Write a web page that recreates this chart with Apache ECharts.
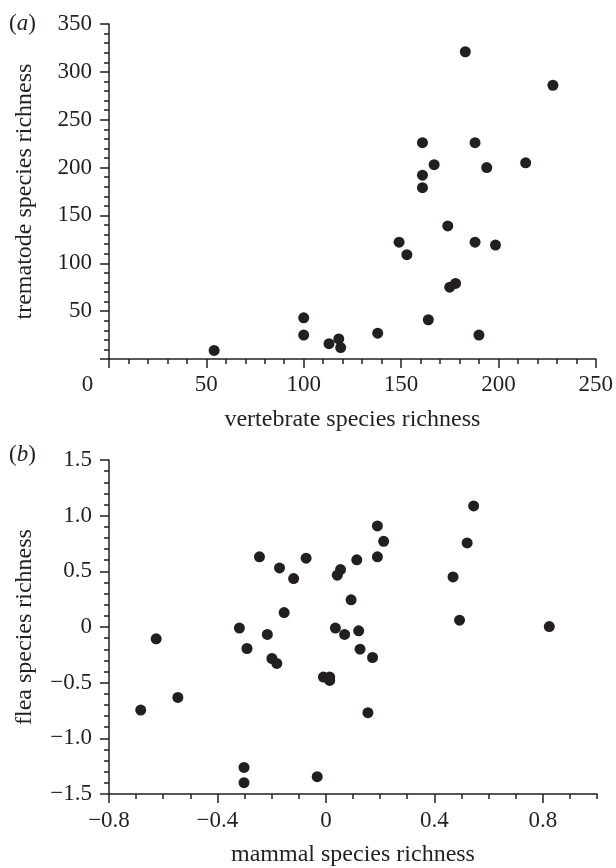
<!DOCTYPE html>
<html>
<head>
<meta charset="utf-8">
<script src="https://cdn.jsdelivr.net/npm/echarts@6/dist/echarts.min.js"></script>
<style>
html,body{margin:0;padding:0;background:#fff;}
#c{width:616px;height:868px;}
</style>
</head>
<body>
<div id="c"></div>
<script>
// Panel (a): vertebrate vs trematode species richness
var vertebrate = [54, 100, 100, 113, 118, 119, 138, 149, 153, 161, 161, 161, 167, 164, 174, 175, 178, 183, 188, 188, 194, 190, 198.5, 214, 228];
var trematode  = [9, 43, 25, 16, 21, 12, 27, 122, 109, 226, 192, 179, 203, 41, 139, 75, 79, 321, 226, 122, 200, 25, 119, 205, 286];

// Panel (b): mammal vs flea species richness (residuals)
var mammal = [-0.683, -0.626, -0.546, -0.319, -0.291, -0.302, -0.302, -0.245, -0.216, -0.199, -0.181, -0.171, -0.154, -0.119, -0.073, -0.032, -0.009, 0.014, 0.014, 0.035, 0.042, 0.054, 0.069, 0.093, 0.114, 0.121, 0.126, 0.155, 0.172, 0.190, 0.190, 0.213, 0.469, 0.493, 0.521, 0.545, 0.824];
var flea   = [-0.746, -0.106, -0.633, -0.010, -0.193, -1.261, -1.398, 0.630, -0.067, -0.283, -0.327, 0.531, 0.130, 0.435, 0.618, -1.344, -0.450, -0.450, -0.480, -0.010, 0.465, 0.516, -0.067, 0.244, 0.603, -0.034, -0.199, -0.770, -0.274, 0.908, 0.630, 0.770, 0.450, 0.061, 0.755, 1.087, 0.004];

// Tick values
var bXMajorTicks = [-0.8, -0.4, 0, 0.4, 0.8];

var FONT = 'Liberation Serif';
var INK = '#231f20';

function pairs(xs, ys) { return xs.map(function (x, i) { return [x, ys[i]]; }); }
function minusFmt(v, digits) {
  if (Math.abs(v) < 1e-9) return '0';
  return v.toFixed(digits).replace('-', '\u2212');
}
var bXMinorTicks = [];
for (var k = -8; k <= 10; k++) bXMinorTicks.push(k / 10);

var lineStyle = { color: INK, width: 1.5 };
var labelBase = { color: INK, fontFamily: FONT, fontSize: 23 };
var nameStyle = { color: INK, fontFamily: FONT, fontSize: 24 };
var panelRich = {
  p: { fontFamily: FONT, fontSize: 23, color: INK, fontWeight: 'normal' },
  i: { fontFamily: FONT, fontSize: 23, fontStyle: 'italic', fontWeight: 'normal', color: INK }
};

var chart = echarts.init(document.getElementById('c'), null, { renderer: 'canvas' });
chart.setOption({
  backgroundColor: '#ffffff',
  animation: false,
  title: [
    { text: '{p|(}{i|a}{p|)}', left: 9, top: 12, padding: 0,
      textStyle: { fontWeight: 'normal', rich: panelRich } },
    { text: '{p|(}{i|b}{p|)}', left: 9, top: 443, padding: 0,
      textStyle: { fontWeight: 'normal', rich: panelRich } }
  ],
  grid: [
    { left: 109, right: 19, top: 24, bottom: 509, containLabel: false },
    { left: 109, right: 19, top: 460, bottom: 74, containLabel: false }
  ],
  xAxis: [
    {
      gridIndex: 0, type: 'value', min: 0, max: 250, interval: 50, position: 'bottom',
      name: 'vertebrate species richness', nameLocation: 'middle', nameGap: 49, nameTextStyle: nameStyle,
      axisLine: { show: true, onZero: false, lineStyle: lineStyle },
      axisTick: { show: true, inside: false, length: 9, lineStyle: lineStyle },
      minorTick: { show: true, splitNumber: 5, length: 5, lineStyle: lineStyle },
      splitLine: { show: false },
      axisLabel: Object.assign({}, labelBase, {
        margin: 14,
        formatter: function (v) { return v === 0 ? '{z|0}' : String(v); },
        rich: { z: { fontFamily: FONT, fontSize: 23, color: INK, padding: [0, 43, 0, 0] } }
      })
    },
    {
      gridIndex: 1, type: 'value', min: -0.8, max: 1.0, position: 'bottom',
      name: 'mammal species richness', nameLocation: 'middle', nameGap: 49, nameTextStyle: nameStyle,
      axisLine: { show: true, onZero: false, lineStyle: lineStyle },
      axisTick: { show: true, inside: false, length: 9, lineStyle: lineStyle, customValues: bXMajorTicks },
      minorTick: { show: false },
      splitLine: { show: false },
      axisLabel: Object.assign({}, labelBase, {
        margin: 15, customValues: bXMajorTicks,
        formatter: function (v) { return minusFmt(v, 1); }
      })
    },
    {
      gridIndex: 1, type: 'value', min: -0.8, max: 1.0, position: 'bottom', offset: 0,
      axisLine: { show: false, onZero: false },
      axisTick: { show: true, inside: false, length: 5, lineStyle: lineStyle, customValues: bXMinorTicks },
      axisLabel: { show: false },
      splitLine: { show: false }
    }
  ],
  yAxis: [
    {
      gridIndex: 0, type: 'value', min: 0, max: 350, interval: 50, position: 'left',
      name: 'trematode species richness', nameLocation: 'middle', nameGap: 72, nameTextStyle: nameStyle,
      axisLine: { show: true, onZero: false, lineStyle: lineStyle },
      axisTick: { show: true, inside: false, length: 9, lineStyle: lineStyle },
      minorTick: { show: true, splitNumber: 5, length: 5, lineStyle: lineStyle },
      splitLine: { show: false },
      axisLabel: Object.assign({}, labelBase, {
        margin: 17,
        formatter: function (v) { return v === 0 ? '' : String(v); }
      })
    },
    {
      gridIndex: 1, type: 'value', min: -1.5, max: 1.5, interval: 0.5, position: 'left',
      name: 'flea species richness', nameLocation: 'middle', nameGap: 72, nameTextStyle: nameStyle,
      axisLine: { show: true, onZero: false, lineStyle: lineStyle },
      axisTick: { show: true, inside: false, length: 9, lineStyle: lineStyle },
      minorTick: { show: true, splitNumber: 5, length: 5, lineStyle: lineStyle },
      splitLine: { show: false },
      axisLabel: Object.assign({}, labelBase, {
        margin: 17,
        formatter: function (v) { return minusFmt(v, 1); }
      })
    }
  ],
  series: [
    {
      type: 'scatter', xAxisIndex: 0, yAxisIndex: 0,
      data: pairs(vertebrate, trematode),
      symbol: 'circle', symbolSize: 11,
      itemStyle: { color: INK, opacity: 1 }
    },
    {
      type: 'scatter', xAxisIndex: 1, yAxisIndex: 1,
      data: pairs(mammal, flea),
      symbol: 'circle', symbolSize: 11,
      itemStyle: { color: INK, opacity: 1 }
    }
  ]
});
</script>
</body>
</html>
